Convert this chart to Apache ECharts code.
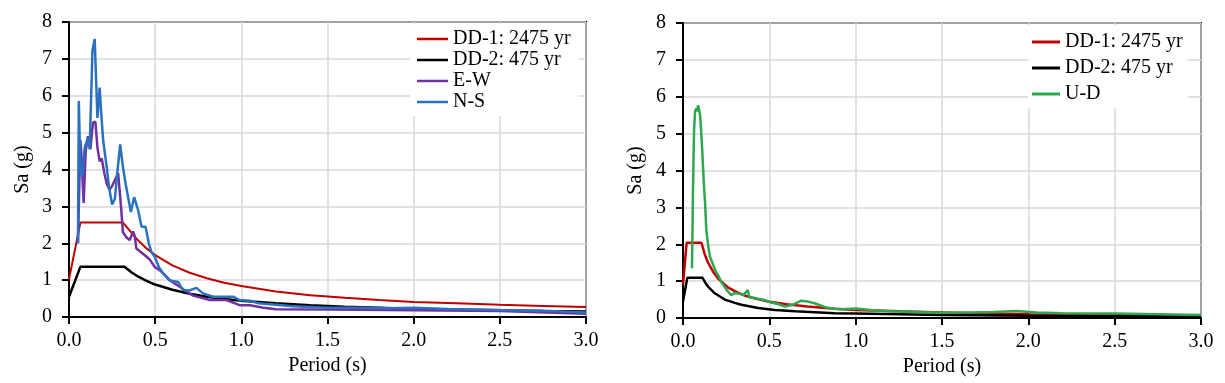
<!DOCTYPE html>
<html>
<head>
<meta charset="utf-8">
<script src="https://cdn.jsdelivr.net/npm/echarts@6/dist/echarts.min.js"></script>
<style>
html,body{margin:0;padding:0;background:#fff;}
#c{width:1225px;height:383px;}
</style>
</head>
<body>
<div id="c"></div>
<script>
// ---------- axis ticks ----------
const xTicks = [0.0, 0.5, 1.0, 1.5, 2.0, 2.5, 3.0];
const yTicks = [0, 1, 2, 3, 4, 5, 6, 7, 8];

// ---------- names ----------
const nameDD1 = 'DD-1: 2475 yr';
const nameDD2 = 'DD-2: 475 yr';
const nameEW = 'E-W';
const nameNS = 'N-S';
const nameUD = 'U-D';

// ---------- left panel: DD-1 ----------
const tDD1L = [0, 0.066, 0.313, 0.36, 0.4, 0.45, 0.5, 0.6, 0.7, 0.8, 0.9, 1.0, 1.2, 1.4, 1.6, 1.8, 2.0, 2.25, 2.5, 2.75, 3.0];
const saDD1L = [1.02, 2.56, 2.56, 2.3, 2.08, 1.86, 1.68, 1.4, 1.2, 1.05, 0.93, 0.84, 0.69, 0.59, 0.52, 0.46, 0.41, 0.37, 0.33, 0.3, 0.27];

// ---------- left panel: DD-2 ----------
const tDD2L = [0, 0.066, 0.322, 0.36, 0.4, 0.45, 0.5, 0.6, 0.7, 0.8, 0.9, 1.0, 1.2, 1.4, 1.6, 1.8, 2.0, 2.25, 2.5, 2.75, 3.0];
const saDD2L = [0.55, 1.36, 1.36, 1.22, 1.1, 0.98, 0.88, 0.74, 0.63, 0.55, 0.49, 0.44, 0.37, 0.32, 0.28, 0.25, 0.22, 0.2, 0.18, 0.16, 0.15];

// ---------- left panel: E-W ----------
const tEW = [0.052, 0.060, 0.066, 0.072, 0.085, 0.097, 0.110, 0.124, 0.139, 0.153, 0.165, 0.178, 0.190, 0.205, 0.220, 0.235, 0.250, 0.265, 0.285, 0.300, 0.313, 0.335, 0.352, 0.372, 0.381, 0.391, 0.420, 0.449, 0.470, 0.497, 0.526, 0.555, 0.584, 0.642, 0.680, 0.720, 0.817, 0.913, 0.99, 1.05, 1.12, 1.2, 1.5, 2.0, 2.5, 3.0];
const saEW = [2.0, 3.6, 4.8, 4.4, 3.09, 4.5, 4.9, 4.55, 5.27, 5.3, 4.6, 4.22, 4.3, 3.9, 3.6, 3.45, 3.55, 3.7, 3.9, 3.1, 2.3, 2.15, 2.09, 2.32, 2.2, 1.86, 1.75, 1.64, 1.55, 1.36, 1.27, 1.15, 1.0, 0.82, 0.7, 0.58, 0.46, 0.46, 0.32, 0.32, 0.26, 0.21, 0.2, 0.18, 0.16, 0.09];

// ---------- left panel: N-S ----------
const tNS = [0.052, 0.057, 0.066, 0.078, 0.091, 0.100, 0.110, 0.120, 0.136, 0.149, 0.156, 0.165, 0.178, 0.186, 0.198, 0.217, 0.233, 0.250, 0.266, 0.280, 0.297, 0.312, 0.329, 0.359, 0.378, 0.401, 0.421, 0.444, 0.463, 0.479, 0.497, 0.522, 0.546, 0.584, 0.633, 0.662, 0.700, 0.739, 0.778, 0.837, 0.914, 0.952, 0.99, 1.05, 1.1, 1.2, 1.3, 1.5, 1.7, 1.85, 2.0, 2.2, 2.5, 2.75, 3.0];
const saNS = [2.0, 5.86, 4.0, 3.8, 4.59, 4.6, 4.86, 4.55, 7.22, 7.54, 6.6, 5.4, 6.22, 5.6, 4.8, 4.13, 3.5, 3.05, 3.2, 3.9, 4.68, 4.1, 3.6, 2.85, 3.25, 2.9, 2.45, 2.45, 2.0, 1.75, 1.64, 1.35, 1.18, 0.99, 0.95, 0.73, 0.72, 0.79, 0.64, 0.55, 0.55, 0.55, 0.46, 0.44, 0.37, 0.33, 0.29, 0.25, 0.25, 0.24, 0.25, 0.22, 0.19, 0.17, 0.12];

// ---------- right panel: DD-1 ----------
const tDD1R = [0, 0.021, 0.107, 0.125, 0.145, 0.175, 0.203, 0.26, 0.3, 0.35, 0.4, 0.5, 0.6, 0.72, 0.88, 1.0, 1.25, 1.5, 1.75, 2.0, 2.25, 2.5, 3.0];
const saDD1R = [0.9, 2.04, 2.04, 1.74, 1.5, 1.25, 1.07, 0.83, 0.73, 0.62, 0.55, 0.44, 0.37, 0.31, 0.25, 0.22, 0.18, 0.15, 0.12, 0.1, 0.09, 0.09, 0.07];

// ---------- right panel: DD-2 ----------
const tDD2R = [0, 0.025, 0.113, 0.13, 0.145, 0.184, 0.242, 0.3, 0.338, 0.435, 0.531, 0.65, 0.88, 1.0, 1.25, 1.5, 2.0, 2.5, 3.0];
const saDD2R = [0.45, 1.09, 1.09, 0.95, 0.85, 0.67, 0.5, 0.41, 0.36, 0.27, 0.22, 0.18, 0.13, 0.12, 0.1, 0.08, 0.06, 0.05, 0.04];

// ---------- right panel: U-D ----------
const tUD = [0.052, 0.058, 0.064, 0.070, 0.077, 0.082, 0.087, 0.093, 0.099, 0.106, 0.113, 0.120, 0.128, 0.135, 0.145, 0.156, 0.170, 0.190, 0.205, 0.220, 0.240, 0.260, 0.279, 0.300, 0.327, 0.350, 0.375, 0.385, 0.410, 0.433, 0.470, 0.510, 0.550, 0.590, 0.637, 0.685, 0.720, 0.762, 0.820, 0.869, 0.920, 1.0, 1.1, 1.2, 1.35, 1.5, 1.65, 1.8, 1.93, 2.05, 2.2, 2.5, 2.75, 3.0];
const saUD = [1.35, 3.5, 5.1, 5.6, 5.68, 5.6, 5.77, 5.65, 5.5, 5.0, 4.4, 3.7, 3.1, 2.38, 2.0, 1.66, 1.5, 1.26, 1.15, 0.99, 0.85, 0.72, 0.62, 0.68, 0.66, 0.62, 0.76, 0.55, 0.55, 0.52, 0.49, 0.42, 0.38, 0.31, 0.36, 0.47, 0.45, 0.4, 0.3, 0.25, 0.24, 0.26, 0.21, 0.18, 0.16, 0.14, 0.15, 0.16, 0.19, 0.15, 0.13, 0.12, 0.1, 0.08];

// ---------- build ----------
const zip = (t, s) => t.map((v, i) => [v, s[i]]);
const FONT = '"Liberation Serif", "Times New Roman", "DejaVu Serif", serif';
const txt = { fontFamily: FONT, fontSize: 20, color: '#000' };

function xAxis(gi) {
  return {
    type: 'value', gridIndex: gi, min: xTicks[0], max: xTicks[xTicks.length - 1], interval: 0.5,
    name: 'Period (s)', nameLocation: 'middle', nameGap: 33, nameTextStyle: txt,
    axisLine: { show: true, lineStyle: { color: '#000', width: 2 } },
    axisTick: { show: true, inside: false, length: 7, lineStyle: { color: '#000', width: 2 } },
    axisLabel: Object.assign({ margin: 14, formatter: v => v.toFixed(1) }, txt),
    splitLine: { show: true, lineStyle: { color: '#d9d9d9', width: 1.5 } }
  };
}
function yAxis(gi, gap) {
  return {
    type: 'value', gridIndex: gi, min: yTicks[0], max: yTicks[yTicks.length - 1], interval: 1,
    name: 'Sa (g)', nameLocation: 'middle', nameGap: gap, nameTextStyle: txt,
    axisLine: { show: true, lineStyle: { color: '#000', width: 2 } },
    axisTick: { show: true, inside: false, length: 7, lineStyle: { color: '#000', width: 2 } },
    axisLabel: Object.assign({ margin: 17 }, txt),
    splitLine: { show: true, lineStyle: { color: '#d9d9d9', width: 1.5 } }
  };
}
function line(name, data, color, width, gi, z) {
  return {
    name, type: 'line', xAxisIndex: gi, yAxisIndex: gi, data,
    symbol: 'none', showSymbol: false, smooth: false, z: z,
    lineStyle: { color, width }, itemStyle: { color }
  };
}

const RED = '#c00000', BLACK = '#000000', PURPLE = '#7030a0', BLUE = '#2a72c0', GREEN = '#2ea84e';

const option = {
  animation: false,
  backgroundColor: '#fff',
  textStyle: { fontFamily: FONT },
  grid: [
    { left: 69, right: 639, top: 22, bottom: 66, show: true, borderColor: '#000', borderWidth: 2, backgroundColor: 'transparent' },
    { left: 683, right: 24, top: 23, bottom: 65, show: true, borderColor: '#000', borderWidth: 2, backgroundColor: 'transparent' }
  ],
  xAxis: [xAxis(0), xAxis(1)],
  yAxis: [yAxis(0, 36), yAxis(1, 37)],
  legend: [
    {
      data: [nameDD1, nameDD2, nameEW, nameNS], orient: 'vertical', icon: 'rect',
      left: 410, top: 24, padding: [5, 8, 4, 7], itemGap: 1, itemWidth: 31, itemHeight: 2.5,
      backgroundColor: '#fff', textStyle: txt, selectedMode: false
    },
    {
      data: [nameDD1, nameDD2, nameUD], orient: 'vertical', icon: 'rect',
      left: 1028, top: 25, padding: [7, 5, 4, 4], itemGap: 6, itemWidth: 28, itemHeight: 3,
      backgroundColor: '#fff', textStyle: txt, selectedMode: false
    }
  ],
  series: [
    line(nameDD1, zip(tDD1L, saDD1L), RED, 2, 0, 2),
    line(nameDD2, zip(tDD2L, saDD2L), BLACK, 2.5, 0, 2),
    line(nameEW, zip(tEW, saEW), PURPLE, 2.5, 0, 3),
    line(nameNS, zip(tNS, saNS), BLUE, 2.5, 0, 4),
    line(nameDD1, zip(tDD1R, saDD1R), RED, 2.5, 1, 2),
    line(nameDD2, zip(tDD2R, saDD2R), BLACK, 2.5, 1, 2),
    line(nameUD, zip(tUD, saUD), GREEN, 2.5, 1, 3)
  ]
};

const chart = echarts.init(document.getElementById('c'), null, { renderer: 'canvas' });
chart.setOption(option);
</script>
</body>
</html>
